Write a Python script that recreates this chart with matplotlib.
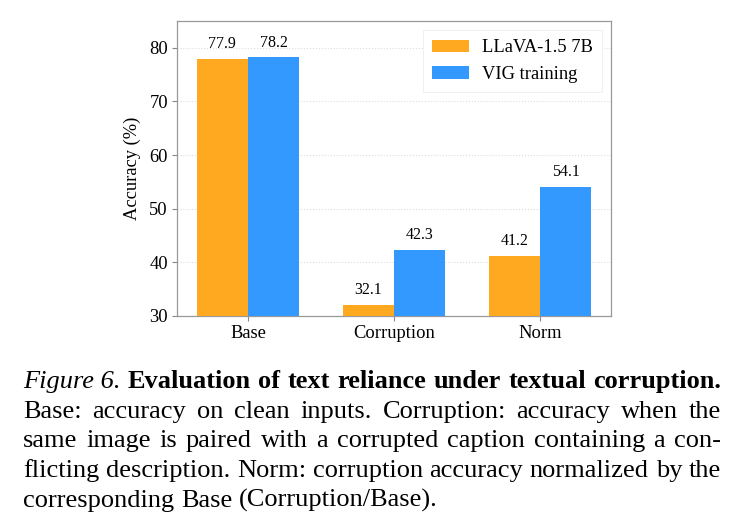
import numpy as np
import matplotlib.pyplot as plt

plt.rcParams['font.family'] = ['Liberation Serif', 'DejaVu Serif']

categories = ["Base", "Corruption", "Norm"]
llava = [77.9, 32.1, 41.2]
vig = [78.2, 42.3, 54.1]
series_names = ["LLaVA-1.5 7B", "VIG training"]
yticks = [30, 40, 50, 60, 70, 80]

caption_lines = [
    [("Figure 6.", "italic"), ("Evaluation", "bold"), ("of", "bold"), ("text", "bold"),
     ("reliance", "bold"), ("under", "bold"), ("textual", "bold"), ("corruption.", "bold")],
    "Base: accuracy on clean inputs. Corruption: accuracy when the",
    "same image is paired with a corrupted caption containing a con-",
    "flicting description. Norm: corruption accuracy normalized by the",
    "corresponding Base (Corruption/Base).",
]

W, H = 740, 529
fig = plt.figure(figsize=(W / 100, H / 100), dpi=100)
ax = fig.add_axes([177 / W, 1 - 316 / H, (611 - 177) / W, (316 - 21) / H])

x = np.arange(len(categories))
width = 0.35
orange = "#FFA920"
blue = "#3399FF"

b1 = ax.bar(x - width / 2, llava, width, color=orange, label=series_names[0], zorder=3)
b2 = ax.bar(x + width / 2, vig, width, color=blue, label=series_names[1], zorder=3)

for bars in (b1, b2):
    for r in bars:
        ax.annotate(f"{r.get_height():.1f}", (r.get_x() + r.get_width() / 2, r.get_height()),
                    xytext=(0, 5), textcoords="offset points", ha="center", va="bottom",
                    fontsize=11.5)

fs_lab = 13.3
ax.set_ylim(30, 85)
ax.set_yticks(yticks)
ax.set_xticks(x)
ax.set_xticklabels(categories)
ax.set_ylabel("Accuracy (%)", fontsize=fs_lab, labelpad=6)
ax.tick_params(labelsize=fs_lab, length=3.5, width=0.8, color="#888888", pad=3)
ax.yaxis.grid(True, linestyle=":", color="#dddddd", linewidth=0.8, zorder=0)
ax.set_axisbelow(True)
for s in ax.spines.values():
    s.set_color("#999999")
    s.set_linewidth(0.9)

leg = ax.legend(loc="upper right", fontsize=fs_lab, frameon=True, fancybox=False,
                edgecolor="#eeeeee", framealpha=1, handlelength=2.0, handleheight=0.7,
                borderpad=0.5, labelspacing=0.5, handletextpad=0.7)
leg.get_frame().set_linewidth(0.6)

# caption, set as a justified paragraph
fig.canvas.draw()
renderer = fig.canvas.get_renderer()
left, right = 23, 721
baselines = [388, 418, 447, 477, 507]
fs = 19
for i, line in enumerate(caption_lines):
    if isinstance(line, str):
        words = [(w, "normal") for w in line.split()]
    else:
        words = line
    texts = []
    for w, style in words:
        kw = {"fontsize": fs}
        if style == "italic":
            kw["style"] = "italic"
        elif style == "bold":
            kw["weight"] = "bold"
        t = fig.text(0, 1 - baselines[i] / H, w, va="baseline", ha="left", **kw)
        texts.append(t)
    widths = [t.get_window_extent(renderer).width for t in texts]
    last = i == len(caption_lines) - 1
    if last:
        sp = fig.text(0, 0, "a b", fontsize=fs)
        sp2 = fig.text(0, 0, "ab", fontsize=fs)
        gap = sp.get_window_extent(renderer).width - sp2.get_window_extent(renderer).width
        sp.remove()
        sp2.remove()
    else:
        gap = (right - left - sum(widths)) / (len(texts) - 1)
    xpos = left
    for t, wd in zip(texts, widths):
        t.set_x(xpos / W)
        xpos += wd + gap

fig.savefig("out.png", dpi=100)
